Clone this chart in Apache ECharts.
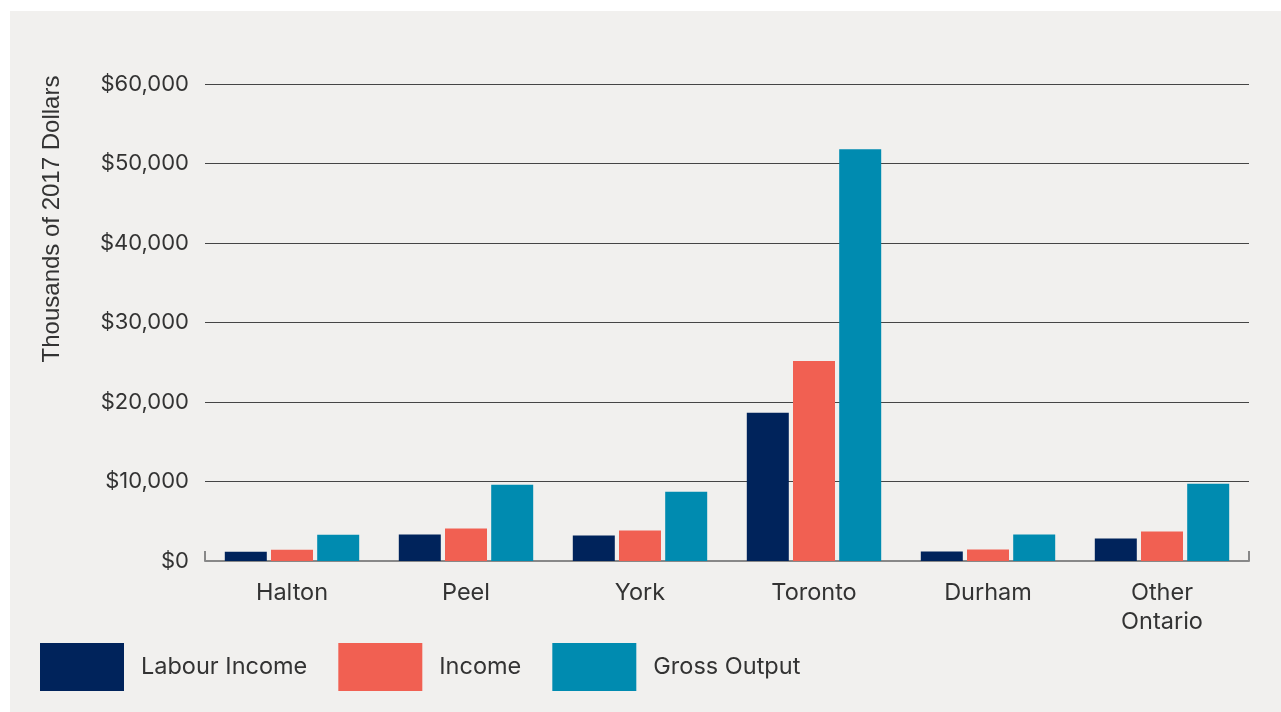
<!DOCTYPE html>
<html>
<head>
<meta charset="utf-8">
<script src="https://cdn.jsdelivr.net/npm/echarts@6/dist/echarts.min.js"></script>
<style>
  html, body { margin: 0; padding: 0; background: #ffffff; }
  #chart { position: absolute; left: 10px; top: 11px; width: 1271px; height: 701px; background: #f1f0ee; }
</style>
</head>
<body>
<div id="chart"></div>
<script>
const categories = ['Halton', 'Peel', 'York', 'Toronto', 'Durham', 'Other\nOntario'];
const seriesNames = ['Labour Income', 'Income', 'Gross Output'];
const labourIncome = [1170, 3330, 3200, 18640, 1190, 2820];
const income = [1420, 4080, 3830, 25170, 1440, 3700];
const grossOutput = [3310, 9600, 8720, 51800, 3330, 9730];
const yTicks = [0, 10000, 20000, 30000, 40000, 50000, 60000];
const yAxisTitle = 'Thousands of 2017 Dollars';

const colors = ['#00235b', '#f16052', '#008bb0'];
const font = 'Inter, "Noto Sans", sans-serif';

const chart = echarts.init(document.getElementById('chart'));
chart.setOption({
  backgroundColor: '#f1f0ee',
  animation: false,
  color: colors,
  grid: { left: 195, right: 32, top: 73, bottom: 151 },
  graphic: [{
    type: 'text',
    x: 42, y: 208,
    rotation: Math.PI / 2,
    style: {
      text: yAxisTitle,
      fill: '#333333',
      font: '24px "Liberation Sans", Arial, sans-serif',
      textAlign: 'center',
      textVerticalAlign: 'middle'
    }
  }],
  legend: {
    left: 25, top: 627,
    itemWidth: 84, itemHeight: 48, itemGap: 31,
    icon: 'rect',
    data: seriesNames,
    textStyle: { fontFamily: font, fontSize: 23.5, color: '#333333', padding: [0, 0, 0, 12] }
  },
  xAxis: {
    type: 'category',
    data: categories,
    axisLine: { lineStyle: { color: '#888888', width: 2 } },
    axisTick: { show: true, inside: true, length: 10, interval: (i) => i === 0, lineStyle: { color: '#888888', width: 2 } },
    axisLabel: { fontFamily: font, fontSize: 23.5, color: '#333333', margin: 17, lineHeight: 29 }
  },
  yAxis: {
    type: 'value',
    min: yTicks[0], max: yTicks[yTicks.length - 1], interval: yTicks[1] - yTicks[0],
    axisLine: { show: false },
    axisTick: { show: false },
    splitLine: { lineStyle: { color: '#454545', width: 1 } },
    axisLabel: {
      fontFamily: font, fontSize: 22, color: '#333333', margin: 16,
      formatter: (v) => '$' + v.toLocaleString('en-US')
    }
  },
  series: [
    { name: seriesNames[0], type: 'bar', data: labourIncome, barWidth: 42, barGap: '10%' },
    { name: seriesNames[1], type: 'bar', data: income, barWidth: 42, barGap: '10%' },
    { name: seriesNames[2], type: 'bar', data: grossOutput, barWidth: 42, barGap: '10%' }
  ]
});
</script>
</body>
</html>
